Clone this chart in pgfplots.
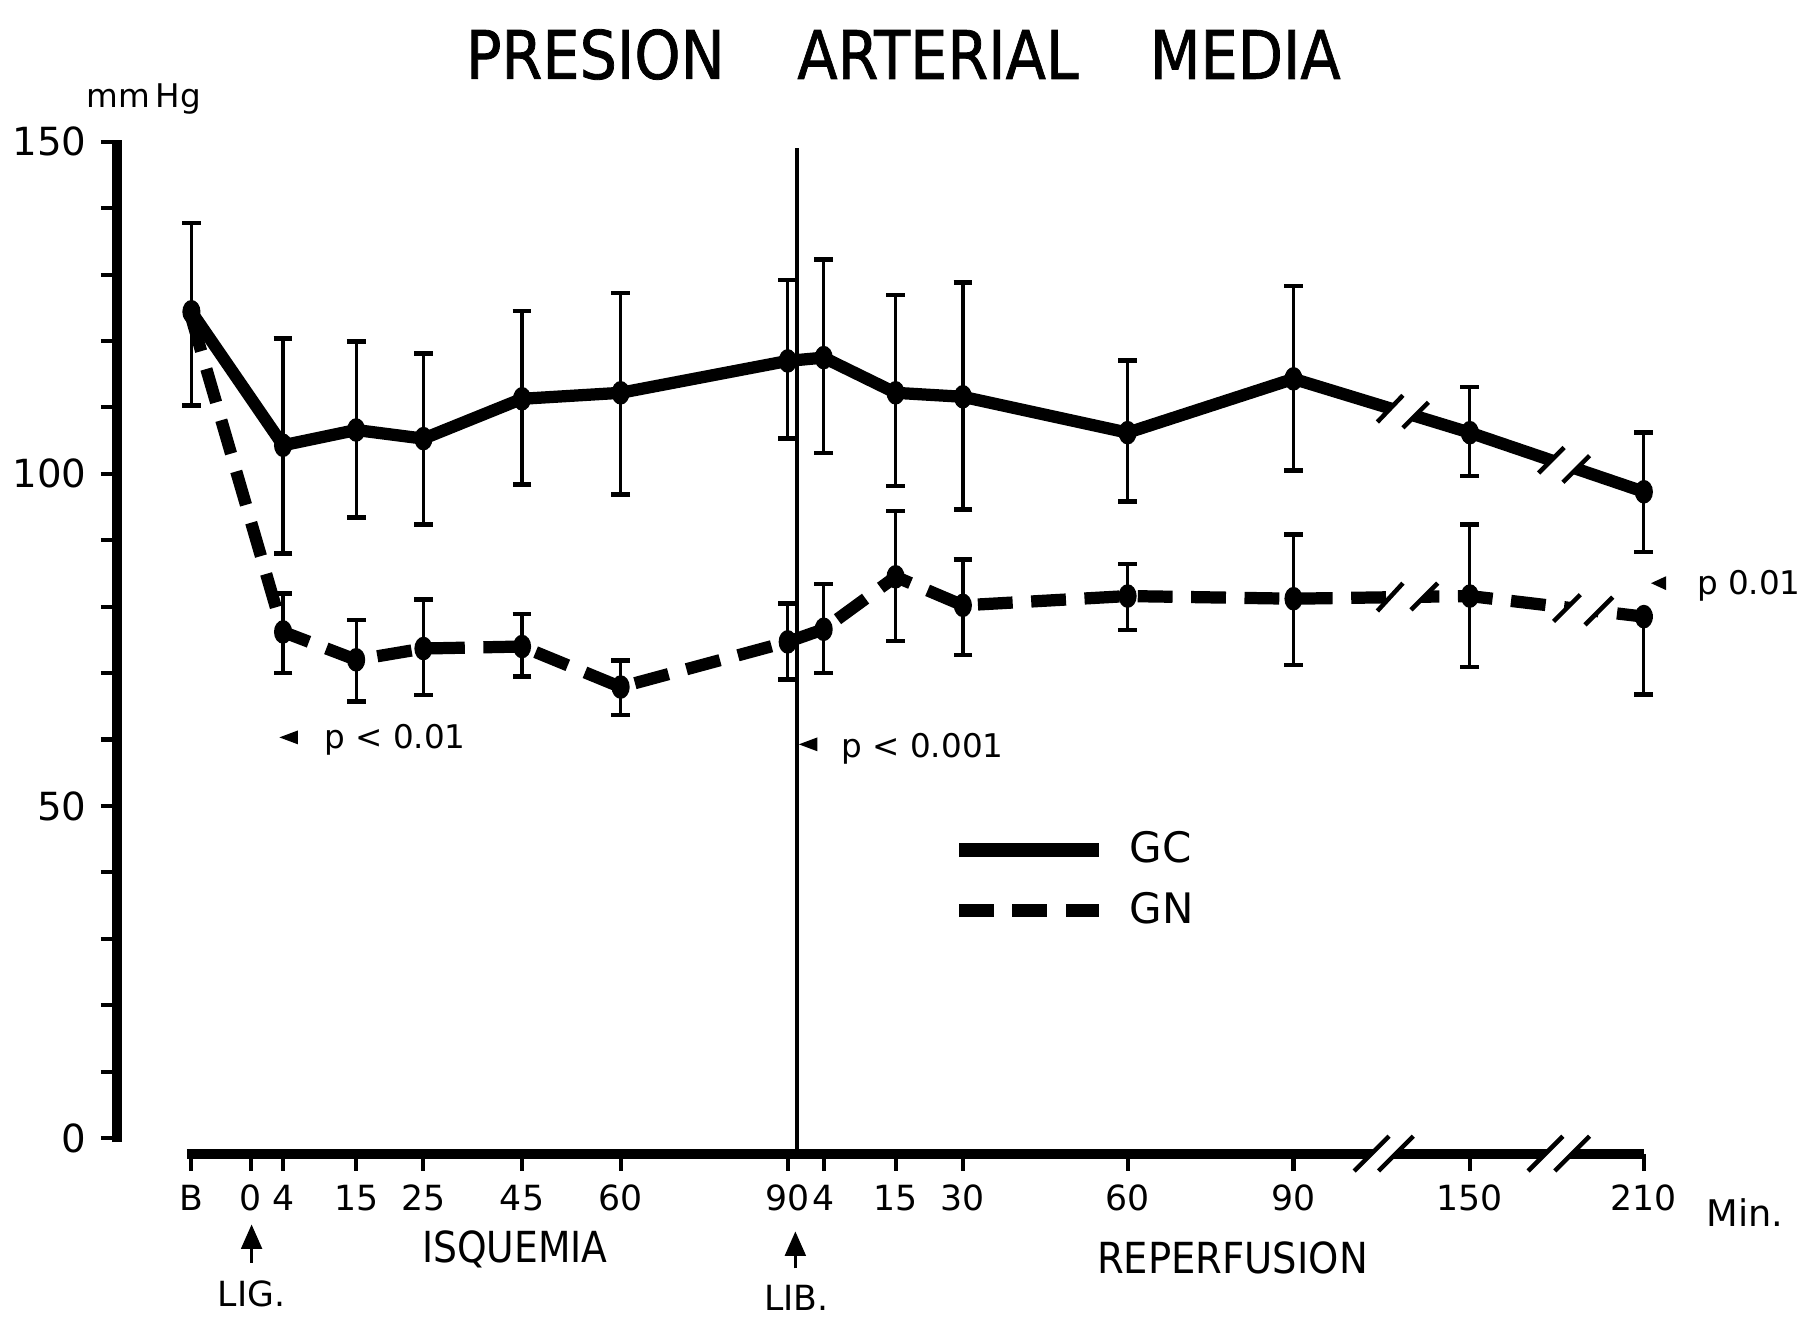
\documentclass[border=0pt]{standalone}
\usepackage{fontspec}
\setmainfont{DejaVu Sans}
\newfontfamily\titlefont[FakeBold=1.2]{DejaVu Sans}
\usepackage{pgfplots}
\pgfplotsset{compat=1.18}
\usepackage{pgfplotstable}
\usetikzlibrary{arrows.meta}

\pgfplotstableread{
x y ep em
165 124.4 13.4 14.1
244 104.3 16.1 16.3
307 106.6 13.3 13.2
365 105.3 12.8 12.9
450 111.3 13.2 12.9
535 112.2 15.0 15.3
679 117.0 12.2 11.7
710 117.5 14.8 14.4
772 112.2 14.7 14.0
830 111.6 17.2 17.0
972 106.2 10.9 10.4
1115 114.3 14.0 13.8
1267 106.2 6.9 6.5
1417 97.3 8.9 9.1
}\gcdata

\pgfplotstableread{
x y ep em
165 123.5 0 0
244 76.2 5.8 6.2
307 72.0 6.0 6.3
365 73.7 7.4 7.0
450 74.0 4.9 4.5
535 67.9 4.0 4.2
679 74.7 5.8 5.7
710 76.6 6.8 6.6
772 84.5 9.9 9.7
830 80.2 6.9 7.5
972 81.6 4.8 5.1
1115 81.2 9.7 10.0
1267 81.6 10.8 10.7
1417 78.5 0 11.7
}\gndata

\begin{document}
\begin{tikzpicture}
\useasboundingbox (0,0) rectangle (15.68cm,-11.35cm);
\begin{axis}[
  at={(1.01cm,-9.95cm)}, anchor=south west,
  scale only axis, width=13.19cm, height=8.728cm,
  xmin=101, xmax=1420, ymin=-2.45, ymax=150,
  clip=false,
  axis line style={draw=none},
  tick align=outside,
  tick pos=left,
  xtick={165,216,244,307,365,450,535,679,710,772,830,972,1115,1267,1417},
  xticklabels={B,0,4,15,25,45,60,90,4,15,30,60,90,150,210},
  ytick={0,50,100,150}, yticklabels={0,50,100,150},
  minor ytick={10,20,30,40,60,70,80,90,110,120,130,140},
  major tick length=0.14cm, minor tick length=0.14cm,
  tick style={black, line width=1pt},
  minor tick style={black, line width=1pt},
  xticklabel style={font=\fontsize{8.5}{10}\selectfont},
  yticklabel style={font=\fontsize{9.5}{11}\selectfont},
  legend image code/.code={\draw[#1, mark=none, line width=3.4pt] (0cm,0cm) -- (1.21cm,0cm);},
  legend style={draw=none, fill=none, at={(axis cs:820,38.8)}, anchor=west,
    font=\fontsize{10.3}{12}\selectfont, inner sep=0pt, row sep=0.2cm, column sep=0.2cm,
    nodes={inner sep=0pt}},
  legend cell align=left,
]
% axis lines
\draw[line width=2.5pt] (axis cs:161,-2.45) -- (axis cs:1417,-2.45);
\draw[line width=2.4pt] (axis cs:101,-0.6) -- (axis cs:101,150.2);
\draw[line width=1.1pt] (axis cs:687,-2.45) -- (axis cs:687,149);

\addplot[black, line width=3pt, mark=*, mark size=2.7pt,
  mark options={solid, line width=0.4pt, xscale=0.75},
  error bars/.cd, y dir=both, y explicit,
  error bar style={line width=0.8pt, solid},
  error mark options={rotate=90, line width=1.1pt, mark size=2.3pt, solid}]
  table[x=x, y=y, y error plus=ep, y error minus=em] {\gcdata};
\addlegendentry{GC}

\addplot[black, line width=3pt, dash pattern=on 0.3cm off 0.16cm, mark=none]
  table[x=x, y=y] {\gndata};
\addlegendentry{GN}

\addplot[forget plot, black, only marks, mark=*, mark size=2.7pt,
  mark options={solid, line width=0.4pt, xscale=0.75},
  skip coords between index={0}{1},
  error bars/.cd, y dir=both, y explicit,
  error bar style={line width=0.8pt, solid},
  error mark options={rotate=90, line width=1.1pt, mark size=2.3pt, solid}]
  table[x=x, y=y, y error plus=ep, y error minus=em] {\gndata};
\end{axis}

\begin{scope}[x=0.01cm, y=-0.01cm]
% breaks on x axis
\fill[white] (1168,1010) -- (1198,980) -- (1219,980) -- (1189,1010) -- cycle;
\draw[line width=1.1pt] (1168,1010) -- (1198,980) (1189,1010) -- (1219,980);
\fill[white] (1318,1010) -- (1348,980) -- (1371,980) -- (1341,1010) -- cycle;
\draw[line width=1.1pt] (1318,1010) -- (1348,980) (1341,1010) -- (1371,980);
% breaks on GC
\fill[white] (1188,364) -- (1210,341) -- (1232,347) -- (1210,369) -- cycle;
\draw[line width=1.1pt] (1188,364) -- (1210,341) (1210,369) -- (1232,347);
\fill[white] (1327,408) -- (1349,386) -- (1371,393) -- (1348,416) -- cycle;
\draw[line width=1.1pt] (1327,408) -- (1349,386) (1348,416) -- (1371,393);
% breaks on GN
\fill[white] (1188,527) -- (1210,503) -- (1240,503) -- (1217,526) -- cycle;
\draw[line width=1.1pt] (1188,527) -- (1210,503) (1217,526) -- (1240,503);
\fill[white] (1340,536) -- (1363,513) -- (1391,515) -- (1367,539) -- cycle;
\draw[line width=1.1pt] (1340,536) -- (1363,513) (1367,539) -- (1391,515);

% title
\node[font=\titlefont\fontsize{16.4}{18}\selectfont, xscale=0.88, inner sep=0pt] at (513.5,47) {PRESION};
\node[font=\titlefont\fontsize{16.4}{18}\selectfont, xscale=0.88, inner sep=0pt] at (809,47) {ARTERIAL};
\node[font=\titlefont\fontsize{16.4}{18}\selectfont, xscale=0.88, inner sep=0pt] at (1074,47) {MEDIA};
\node[font=\fontsize{8}{10}\selectfont, inner sep=0pt] at (124,85) {mm\,Hg};

% x-axis annotations
\node[font=\fontsize{10.5}{12}\selectfont, xscale=0.88, inner sep=0pt] at (444,1078) {ISQUEMIA};
\node[font=\fontsize{10.5}{12}\selectfont, xscale=0.9, inner sep=0pt] at (1063,1085) {REPERFUSION};
\node[font=\fontsize{8.5}{10}\selectfont, inner sep=0pt] at (217,1116) {LIG.};
\node[font=\fontsize{8.5}{10}\selectfont, inner sep=0pt] at (687,1119) {LIB.};
\node[font=\fontsize{9}{10}\selectfont, inner sep=0pt] at (1505,1046) {Min.};
\draw[line width=0.9pt, -{Triangle[width=5pt,length=6pt]}] (217,1089) -- (217,1056);
\draw[line width=0.9pt, -{Triangle[width=5pt,length=6pt]}] (686,1094) -- (686,1062);

% p values
\fill (241,636) -- (257,630) -- (257,642) -- cycle;
\node[anchor=base west, font=\fontsize{8}{10}\selectfont, inner sep=0pt] at (279,646) {p < 0.01};
\fill (689,642) -- (705,636) -- (705,648) -- cycle;
\node[anchor=base west, font=\fontsize{8}{10}\selectfont, inner sep=0pt] at (725,653) {p < 0.001};
\fill (1424,503) -- (1437,497) -- (1437,509) -- cycle;
\node[anchor=base west, font=\fontsize{8}{10}\selectfont, inner sep=0pt] at (1463,513) {p 0.01};
\end{scope}
\end{tikzpicture}
\end{document}
